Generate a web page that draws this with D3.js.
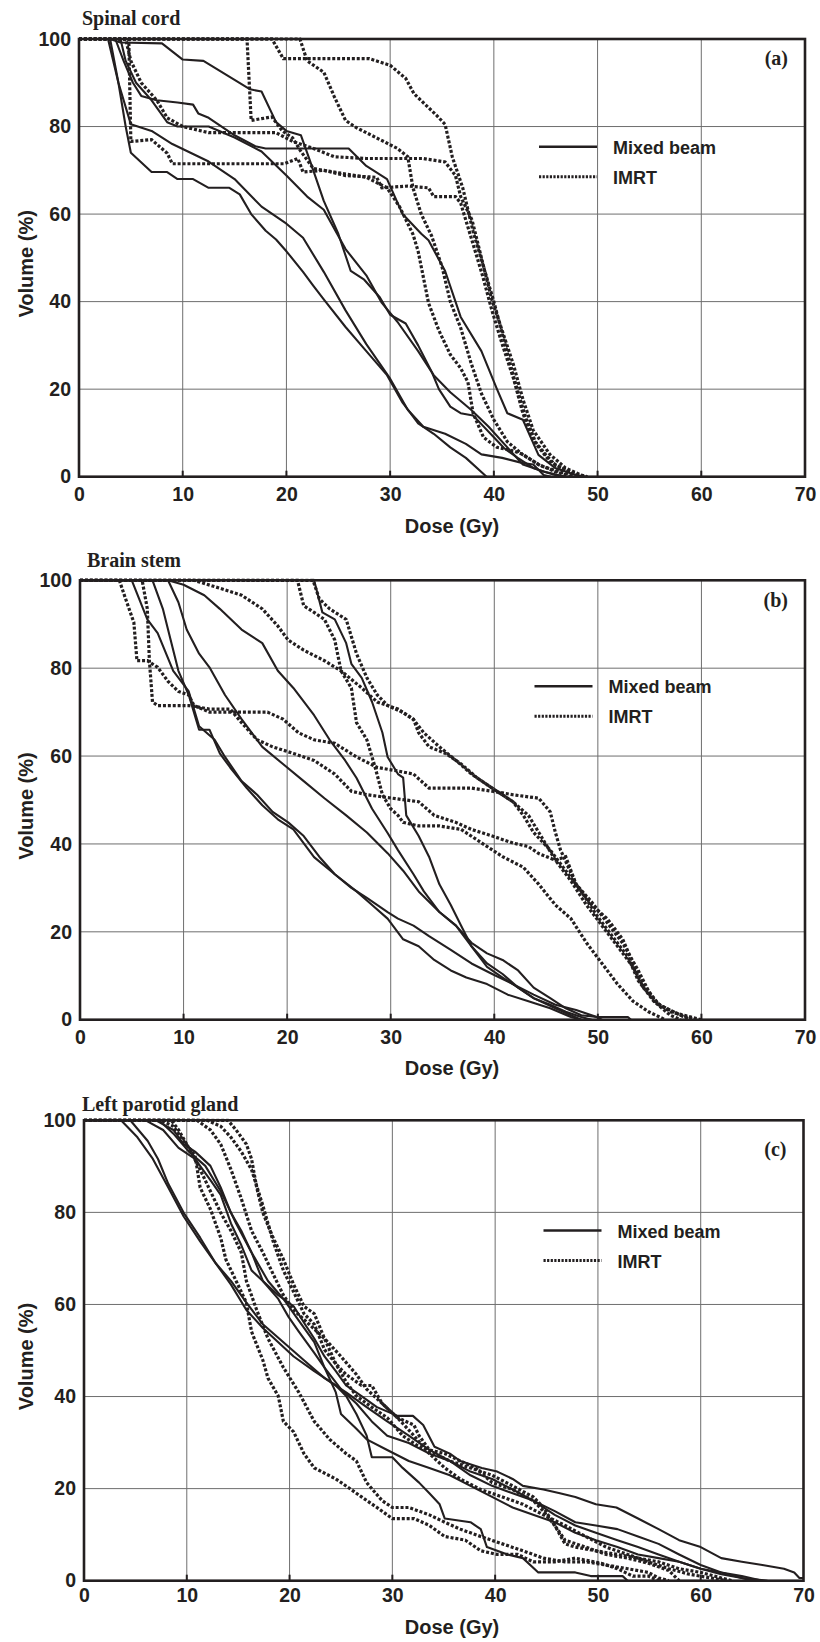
<!DOCTYPE html>
<html>
<head>
<meta charset="utf-8">
<title>Dose volume histograms</title>
<script src="https://d3js.org/d3.v7.min.js"></script>
<style>
  body { margin: 0; background: #fff; }
  svg text { fill: #231f20; }
</style>
</head>
<body>
<svg width="820" height="1642"></svg>
<script>
  // ticks and labels
  const doseTicks = [0, 10, 20, 30, 40, 50, 60, 70];
  const volumeTicks = [0, 20, 40, 60, 80, 100];
  const panelTitles = ["Spinal cord", "Brain stem", "Left parotid gland"];
  const panelLetters = ["(a)", "(b)", "(c)"];
  const legendLabels = ["Mixed beam", "IMRT"];

  // curves: [dose (Gy), volume (%)]
  const spinalMixed = [
    [[0,100],[3,100],[4,99.2],[8,99],[10,95.3],[12,95],[16.5,88.5],[17.6,88],[19,81],[20,79],[21.4,78],[22.3,72],[23.6,63],[25,55.5],[26.2,47],[27.5,45],[29,41],[30,37],[31.5,35],[32.7,30],[34,24],[34.7,20],[35.8,16],[36.8,14.5],[38,14],[39,11.5],[40,9],[41,6.5],[42.3,4.3],[43.8,2],[45,1],[46.5,0]],
    [[0,100],[3.5,100],[4.3,95],[5.2,90],[6,87],[7.5,86],[9.5,85.5],[11,85],[11.5,83],[12.5,82],[15,78],[17,75.5],[18,75],[26,75],[27.7,71],[29.7,68],[31.2,60],[33,55.5],[33.7,54],[35.3,47],[36.8,36.5],[38.8,28.7],[40.3,20],[41.3,14.5],[42.8,13],[44.3,5],[45.9,2],[47.9,0.4],[49,0]],
    [[0,100],[4,100],[4.5,95],[5.5,90],[7,86],[8.5,81],[9.5,80],[12.5,80],[15,77.5],[17.6,74.3],[20,68.8],[22,64],[23.6,61],[25.7,52],[27.7,46],[29.2,39.7],[30.7,35.4],[32.7,28.7],[34.2,23.2],[35.8,19.3],[37.8,15.3],[39.5,11.4],[41.3,6.7],[42.8,2.8],[44.8,1.2],[46.9,0]],
    [[0,100],[2.8,100],[3.8,90],[5,80.5],[7,79],[9,76],[12.5,72],[15,68],[17.6,61.7],[20,57.8],[21.6,54.6],[23.6,46.8],[25.7,38],[27.7,30.3],[30,22.4],[31.7,15.3],[33.2,11.4],[35.3,9.8],[37.3,7.5],[38.8,5.1],[40.8,4.3],[42.8,3.1],[43.8,2.8],[44.8,0.4],[45.5,0]],
    [[0,100],[3,100],[3.8,90],[4.5,80],[5,74],[7,69.6],[8.5,69.6],[9.5,68],[11,68],[12.5,66],[14.5,66],[15.5,64.5],[16.6,60],[18,56.2],[19,54.2],[20,51.5],[21.6,46.8],[22.6,43.6],[23.6,40.5],[25.7,34.2],[27.7,28.7],[29.7,23.2],[31.2,16.9],[32.7,12.2],[34.2,9.8],[35.8,6.7],[37.3,4.3],[39.3,0]]
  ];
  const spinalImrt = [
    [[0,100],[4.5,100],[5,95],[6,90],[7.5,86],[8.5,82],[10,80],[12.5,78.6],[19,78.6],[20.6,76.6],[22.6,75],[24.6,73.1],[27.7,72.7],[33.2,72.7],[35.3,71.9],[36.3,68.8],[36.8,64],[37.9,58.6],[38.9,49.1],[39.8,40.5],[40.8,33.4],[41.9,25.5],[42.8,17.7],[43.8,10.6],[45.4,5.1],[46.9,2],[48.4,0.4],[49,0]],
    [[0,100],[4.8,100],[5,76.6],[7,77],[8.5,73.9],[9,71.5],[19.8,71.5],[21.1,72.7],[21.6,69.6],[23.6,70],[25.7,68.8],[28.7,68.4],[29.2,66],[31.7,66.4],[33.7,66],[34.2,64],[36.3,64],[36.8,62.5],[37.9,53.9],[38.9,46],[39.8,38.1],[40.8,30.3],[41.9,22.4],[42.8,14.5],[43.8,8.3],[45.4,3.5],[47.4,0.8],[48.4,0]],
    [[0,100],[16.2,100],[16.6,81.4],[17.6,81.8],[18.6,82.2],[19.6,79],[20.6,77.4],[21.4,74.3],[22.6,70.4],[24.6,69.6],[27.7,68.4],[29.7,66],[30.9,61.7],[32.2,55.4],[32.7,51.5],[33.7,39.7],[34.7,33.4],[35.8,27.9],[36.8,24.8],[37.5,21.6],[38,14.5],[39,9],[40.3,6.7],[41.9,5.9],[42.8,5.1],[44.3,2.8],[45.9,1.2],[47.4,0]],
    [[0,100],[18.6,100],[19.7,95.5],[28,95.5],[30,94],[31.5,91],[32.3,87.5],[34.5,82.5],[35.3,80.5],[36,73],[37,66],[38,56],[39,48],[40,40],[41,31],[42,22],[43,14],[44,8],[45,5],[46,2.5],[48,0.5],[49,0]],
    [[0,100],[21.3,100],[22,95],[23.6,92.4],[24.6,86.9],[25.7,81.4],[26.7,79.8],[28.7,77.4],[30.7,75],[31.7,73.1],[32.2,66],[33,60],[34,55],[35,48],[35.8,40],[36.8,34],[37.8,26],[38.8,19],[40,13],[41.3,8],[42.8,5],[44.5,2.5],[46.5,1],[48,0]]
  ];

  const brainMixed = [
    [[0,100],[8.5,100],[10,99],[12,96.6],[13.5,93.5],[15.6,88.8],[17.6,85.7],[19.1,79.4],[20.6,75.5],[22.6,69.3],[24.1,63.7],[25.6,59],[26.7,55],[28.2,48],[29.7,42.5],[30.7,38.6],[32.2,33.1],[33.2,29.2],[34.7,24.5],[36.3,21.4],[37.8,17.5],[39.3,15.1],[40.8,13.6],[42.3,11.2],[43.8,7.3],[45.4,4.9],[46.9,2.6],[48.4,1],[49.9,0.6],[52.9,0.6],[53.2,0]],
    [[0,100],[22.6,100],[23.4,92.7],[24.6,91.1],[25.7,85.7],[26.2,81],[27.2,77.8],[28.2,72.3],[29.2,65.3],[29.7,59.8],[30.7,55.9],[31.2,55.1],[31.5,46.5],[32.7,41.8],[33.7,37.1],[34.7,30.8],[35.8,26.1],[36.8,21.4],[37.8,16.7],[39.3,12],[40.8,9.6],[42.3,7.3],[43.8,4.9],[45.4,3.4],[46.9,1.8],[48.4,0.6],[49.4,0]],
    [[0,100],[7,100],[8,93.5],[8.5,88.8],[9.5,79.4],[10.5,73.9],[11.5,66],[12.5,66],[13.5,60.6],[14.5,57.4],[16.1,52.7],[17.6,48.8],[19.1,45.6],[20.6,43.3],[22.6,37],[24.6,33.1],[26.7,29.2],[28.2,26.1],[29.7,23],[31.2,18.3],[32.7,16.7],[34.2,13.6],[35.8,11.2],[37.3,9.6],[39.3,8.1],[41.3,5.7],[43.3,4.2],[45.4,2.6],[47.4,0.6],[48.4,0]],
    [[0,100],[5,100],[6.5,91.1],[7.5,88],[9,79.4],[10.5,74.7],[11.5,66.8],[13,63.7],[14,59.8],[15.6,54.3],[17.1,51.2],[18.6,47.3],[20.1,44.9],[21.6,41.8],[23.1,37.1],[24.6,33.1],[26.2,30],[27.7,27.7],[29.7,24.5],[30.7,23],[32.2,21.4],[33.7,19],[35.8,15.9],[37.8,12.8],[39.8,10.4],[41.8,8.1],[43.8,5.7],[45.9,3.4],[47.9,2.2],[49.9,0.6],[50.4,0]],
    [[0,100],[8.5,100],[9.5,95],[10.3,88.8],[11.5,83.3],[12.5,80.2],[14,73.9],[15.6,68.4],[17.6,62.1],[19.6,58.2],[21.6,54.3],[23.6,50.4],[25.7,46.5],[27.7,42.6],[29.7,37.9],[31.2,33.9],[32.7,29.2],[34.7,24.5],[36.3,21.4],[37.8,16.7],[39.3,12.8],[40.8,10.4],[42.3,7.3],[43.8,4.9],[45.9,2.6],[47.4,1],[48.4,0]]
  ];
  const brainImrt = [
    [[0,100],[3.8,100],[4.4,95.8],[5.2,90.4],[5.5,81.7],[6.5,81.7],[7.5,80.2],[8.5,77],[9.5,74.7],[10.5,73.9],[11,71.5],[12.5,70],[18.1,70],[19.6,68.4],[21.1,65.3],[22.6,63.7],[24.6,62.9],[26.7,59.8],[28.7,57.4],[30.7,56.6],[32.2,55.9],[33.7,52.7],[37.8,52.7],[39.8,52],[41.8,51.2],[44.3,50.4],[45.4,47.3],[45.9,42.6],[46.4,38.6],[47.9,30.8],[49.4,26.1],[50.9,23],[52.4,18.3],[53.4,12.8],[54.4,8.1],[55.5,4.2],[57,1.8],[59,0.6],[60,0]],
    [[0,100],[6,100],[6.5,93.5],[6.7,81.7],[7,72.3],[7.5,71.5],[10.5,71.5],[12.5,70.7],[14.5,70.7],[15.6,67.6],[17.1,63.7],[18.6,62.1],[20.6,60.6],[22.6,59],[24.6,55.9],[26.2,52],[27.7,51.2],[30.2,50.4],[32.7,49.6],[34.2,46.5],[36.3,44.9],[37.8,43.3],[39.8,41.8],[41.8,40.2],[43.3,39.4],[44.3,37.8],[45.9,36.3],[46.9,37.1],[47.9,30.8],[49.4,26.8],[50.9,22.1],[52.4,17.4],[53.9,11.2],[54.9,6.5],[55.9,3.4],[58,1],[59.5,0]],
    [[0,100],[11,100],[13.5,98.2],[15.6,96.6],[17.6,93.5],[19.1,89.6],[20.1,86.4],[21.6,84.1],[23.6,81.7],[25.2,79.4],[27.2,75.5],[28.7,72.3],[30.7,70.7],[32.2,68.3],[33.2,65.3],[34.7,62.1],[36.3,59],[37.8,55.9],[39.8,52.7],[41.8,49.6],[43.3,46.5],[44.3,42.6],[45.9,36.3],[47.4,31.6],[48.9,26.1],[50.4,21.4],[51.9,16.7],[53.4,12],[54.4,7.3],[55.9,3.4],[58,1],[59,0]],
    [[0,100],[21,100],[21.6,94.2],[22.6,92.7],[23.6,91.1],[24.6,86.4],[25.2,79.4],[26.2,75.5],[26.7,67.6],[27.7,63.7],[28.5,57.4],[29.2,51.2],[30,48],[30.7,46.5],[31.2,44.9],[32.7,44.1],[34.7,44.1],[36.8,43.3],[38.8,40.2],[40.8,37.1],[42.8,34.7],[44.3,30.8],[45.9,26.1],[47.4,23],[48.9,17.5],[50.4,12.8],[51.9,8.1],[53.4,4.2],[54.9,1.8],[56.5,0]],
    [[0,100],[22.5,100],[23.1,95.8],[24.1,93.5],[25.7,91.1],[26.2,87.2],[26.7,83.3],[27.7,77.8],[28.7,73.9],[29.7,71.5],[31.2,69.9],[32.2,68.4],[32.7,65.3],[33.7,62.1],[35.3,60.6],[36.8,58.2],[38.3,55.1],[39.8,52.7],[41.8,49.6],[42.8,46.5],[43.8,42.6],[45.4,38.6],[46.9,33.9],[48.4,29.2],[49.9,23.7],[51.4,19],[52.9,14.3],[53.9,8.9],[55.4,4.2],[57,1],[58,0]]
  ];

  const parotidMixed = [
    [[0,100],[3.6,100],[5.2,96.3],[6.7,91.6],[8.2,85.4],[9.7,79.1],[11.3,73.7],[12.8,69],[14.3,64.3],[15.8,58.8],[17.4,54.9],[18.9,51.8],[20.4,48.7],[22.4,45.5],[24.5,42.4],[25.5,40.1],[26.5,36.2],[27.5,31.5],[28,26.8],[30,26.8],[31,24.5],[32.6,21.3],[33.6,19],[34.6,16.6],[35.1,13.5],[37.6,12.7],[38.6,11.2],[39.2,7.3],[41.2,5.7],[42.7,4.9],[44.2,1.8],[47.8,1.8],[49.3,1],[52.4,1],[52.9,0]],
    [[0,100],[4.5,100],[6.2,95.5],[7.2,91.6],[8.2,86.2],[9.7,79.9],[11.3,74.5],[12.8,69],[14.3,65.1],[15.8,60.4],[17.4,55.7],[19.4,51.8],[21.4,47.9],[23.4,44],[25.5,40.9],[27.5,37.7],[29.5,34.6],[31.6,31.5],[33.6,28.4],[35.6,26],[37.6,23.7],[39.7,22.1],[41.7,19.8],[43.7,17.4],[45.8,14.3],[47.8,12],[49.8,10.4],[51.9,8.8],[53.9,7.3],[55.9,5.7],[57.9,4.1],[60,2.6],[62,1.4],[64,0.6],[65,0]],
    [[0,100],[7,100],[8.7,97.9],[9.7,94.8],[10.8,93.2],[12.3,90.1],[13.3,85.4],[14.3,79.9],[15.3,76],[16.3,71.3],[17.4,65.1],[18.9,62],[20.4,59.6],[21.5,55.7],[22.4,52.6],[23.4,48.7],[24.5,45.5],[25.5,42.4],[27,40.1],[28.5,37.7],[30.5,35.8],[32,35.8],[33,33.8],[34.1,29.1],[35.6,27.6],[36.6,26],[38.7,24.5],[40.2,23.7],[41.7,22.1],[42.7,20.6],[44.7,19.8],[46.3,19],[47.8,18.2],[49.8,16.6],[51.8,15.9],[53.9,13.5],[55.9,11.2],[57.9,8.8],[60,7.3],[62,4.9],[64,4.1],[66,3.4],[68.1,2.6],[69.1,1.8],[69.6,0.6],[70,0.6]],
    [[0,100],[6,100],[7.7,97.9],[9.2,94],[10.8,91.6],[12.3,87],[13.3,83.8],[14.3,77.6],[15.3,72.9],[16.3,67.4],[17.4,65.1],[18.9,61.2],[19.9,57.3],[20.9,54.1],[22.4,49.5],[23.4,46.3],[25,41.6],[26.5,38.5],[28,34.6],[29.5,31.5],[31.6,29.9],[33.6,27.6],[35.6,26],[37.6,22.9],[39.7,20.6],[41.7,19],[43.7,17.4],[45.8,15.1],[47.8,12.7],[49.8,12],[51.9,11.2],[53.9,9.6],[55.9,8],[57.9,5.7],[60,3.4],[62,1.8],[64,1],[66,0]],
    [[0,100],[7.3,100],[8.7,97.1],[10.2,93.2],[11.8,90.1],[13.3,84.6],[14.8,77.6],[16.3,71.3],[17.9,65.1],[19.4,61.2],[20.9,56.5],[22.4,51.8],[23.4,46.3],[24.5,40.9],[25,36.2],[26.5,33],[27.5,30.7],[29.5,28.4],[31.6,26],[33.6,24.5],[35.6,22.9],[37.6,20.6],[39.7,18.2],[41.7,15.9],[43.7,14.3],[45.8,12.7],[47.8,10.4],[49.8,8.8],[51.9,7.3],[53.9,5.7],[55.9,4.9],[57.9,4.1],[60,2.6],[62,1.8],[64,0.6],[66.5,0]]
  ];
  const parotidImrt = [
    [[0,100],[7.5,100],[8.7,98.7],[9.7,95.5],[10.8,92.4],[11.3,85.4],[12.3,80.7],[13.3,74.5],[13.8,69.8],[14.8,65.1],[15.8,60.4],[16.3,54.1],[17.4,47.9],[17.9,44],[18.9,40.1],[19.4,34.6],[20.4,32.3],[21.4,27.6],[22.4,24.5],[24.5,22.1],[26,19.8],[27,18.2],[28.5,15.9],[30,13.5],[32.1,13.5],[33.6,12],[35.1,9.6],[37.1,8.8],[38.6,6.5],[40.2,5.7],[42.2,5.7],[43.7,4.1],[45.8,4.1],[47.8,4.9],[50.3,3.8],[51.9,2.6],[53.4,1],[54.9,1],[55.9,0]],
    [[0,100],[8.5,100],[9.2,97.9],[10.2,94],[11.3,89.3],[12.3,84.6],[13.3,79.9],[14.3,76],[15.3,71.3],[15.8,65.1],[16.8,58.8],[17.9,52.6],[19.4,46.3],[20.9,40.9],[22.4,34.6],[23.9,30.7],[25.5,27.6],[26.5,26],[27.5,21.3],[29,17.4],[30,15.9],[31.6,15.9],[33.6,14.3],[35.1,12.7],[36.6,11.2],[38.6,9.6],[40.7,8],[42.7,6.5],[44.7,4.9],[46.8,4.1],[48.8,4.1],[50.8,3.4],[52.9,2.6],[54.9,1.8],[55.9,0.6],[56.9,0]],
    [[0,100],[11,100],[12.3,97.9],[13.3,94.8],[14.3,89.3],[15.3,83],[16.3,76],[17.4,71.3],[18.4,66.6],[19.4,62],[20.4,58.8],[21.9,55.7],[23.4,52.6],[25,48.7],[26.5,44.8],[27.5,41.6],[29,38.5],[30.5,35.4],[32.1,31.5],[33.6,27.6],[35.1,24.5],[36.6,22.1],[38.6,19.8],[40.7,18.2],[42.7,16.6],[44.7,14.3],[46.8,12],[48.8,9.6],[50.8,7.3],[52.9,5.7],[54.9,4.1],[56.9,2.6],[58.9,1.4],[61,0.6],[62.5,0]],
    [[0,100],[12,100],[13.3,98.7],[14.3,96.3],[15.3,93.2],[16.3,89.3],[17.4,81.5],[18.4,73.7],[19.4,67.4],[20.4,62.7],[21.4,58],[22.4,55.7],[23.4,50.2],[24.5,47.1],[25.5,44.8],[27,42.4],[28,42.4],[29,38.5],[30.5,35.4],[32.1,33.8],[32.6,31.5],[33.6,28.4],[35.1,27.6],[36.6,26],[38.1,24.5],[39.7,21.3],[41.7,19.8],[43.7,17.4],[44.7,15.1],[45.8,12],[46.8,8],[47.8,7.3],[49.8,6.5],[51.9,5.7],[53.9,4.9],[55.9,4.1],[57.9,2.6],[60,1.8],[62,0.6],[63,0]],
    [[0,100],[14,100],[14.8,97.9],[15.8,94.8],[16.3,91.6],[16.8,85.4],[17.4,79.9],[18.4,74.5],[19.4,69.8],[20.4,64.3],[21.4,59.6],[22.4,58],[23.4,52.6],[24.5,47.1],[25.5,43.2],[26.5,40.1],[28,37.7],[29.5,35.4],[31,31.5],[32.6,29.1],[34.1,27.6],[35.6,26],[37.6,24.5],[39.7,22.9],[41.7,20.6],[43.7,18.2],[44.7,15.9],[45.8,12],[46.8,8.8],[48.8,7.3],[50.8,5.7],[52.9,4.9],[54.9,3.8],[56.9,2.2],[57.9,0]]
  ];

  const panelData = [
    { mixed: spinalMixed, imrt: spinalImrt },
    { mixed: brainMixed, imrt: brainImrt },
    { mixed: parotidMixed, imrt: parotidImrt }
  ];

  // frame of each panel, in page pixels
  const frames = [
    { left: 79, right: 805, top: 39, bottom: 476.7, tickGap: 27.3, doseGap: 56, titleX: 82, titleY: 25, letterY: 65, legX: 539, legY: 146.7 },
    { left: 80, right: 805, top: 580.3, bottom: 1019.7, tickGap: 27, doseGap: 55, titleX: 87, titleY: 566.7, letterY: 607, legX: 534.5, legY: 686.3 },
    { left: 84, right: 803.5, top: 1120.3, bottom: 1580.7, tickGap: 24.3, doseGap: 53.3, titleX: 82, titleY: 1110.7, letterY: 1156, legX: 543.5, legY: 1230.5 }
  ];

  const ink = "#231f20";
  const sans = "'Liberation Sans', Arial, sans-serif";
  const serif = "'Liberation Serif', 'Times New Roman', serif";
  const dotted = "3 1.9";

  const svg = d3.select("svg");

  frames.forEach((f, i) => {
    const x = d3.scaleLinear().domain([0, 70]).range([f.left, f.right]);
    const y = d3.scaleLinear().domain([0, 100]).range([f.bottom, f.top]);
    const g = svg.append("g");

    // grid
    g.selectAll(".vgrid").data(doseTicks.slice(1, -1)).join("line")
      .attr("x1", d => x(d)).attr("x2", d => x(d))
      .attr("y1", f.top).attr("y2", f.bottom)
      .attr("stroke", "#6e6e6e").attr("stroke-width", 1);
    g.selectAll(".hgrid").data(volumeTicks.slice(1, -1)).join("line")
      .attr("x1", f.left).attr("x2", f.right)
      .attr("y1", d => y(d)).attr("y2", d => y(d))
      .attr("stroke", "#6e6e6e").attr("stroke-width", 1);
    // short ticks on the dose axis
    g.selectAll(".xtick").data(doseTicks.slice(1, -1)).join("line")
      .attr("x1", d => x(d)).attr("x2", d => x(d))
      .attr("y1", f.bottom).attr("y2", f.bottom - 6)
      .attr("stroke", ink).attr("stroke-width", 2);

    // curves
    const line = d3.line().x(d => x(d[0])).y(d => y(d[1]));
    const clipId = "clip" + i;
    svg.append("clipPath").attr("id", clipId).append("rect")
      .attr("x", f.left).attr("y", f.top - 2)
      .attr("width", f.right - f.left).attr("height", f.bottom - f.top + 2);
    const curves = g.append("g").attr("clip-path", `url(#${clipId})`);
    curves.selectAll(".mixed").data(panelData[i].mixed).join("path")
      .attr("d", line).attr("fill", "none")
      .attr("stroke", ink).attr("stroke-width", 2.1)
      .attr("stroke-linejoin", "round");
    curves.selectAll(".imrt").data(panelData[i].imrt).join("path")
      .attr("d", line).attr("fill", "none")
      .attr("stroke", ink).attr("stroke-width", 3.2)
      .attr("stroke-dasharray", dotted);

    // frame
    g.append("rect")
      .attr("x", f.left).attr("y", f.top)
      .attr("width", f.right - f.left).attr("height", f.bottom - f.top)
      .attr("fill", "none").attr("stroke", ink).attr("stroke-width", 2.6);

    // axes
    const xAxis = g.append("g").attr("transform", `translate(0,${f.bottom})`)
      .call(d3.axisBottom(x).tickValues(doseTicks).tickSize(0).tickPadding(f.tickGap - 17));
    const yAxis = g.append("g").attr("transform", `translate(${f.left},0)`)
      .call(d3.axisLeft(y).tickValues(volumeTicks).tickSize(0).tickPadding(8));
    [xAxis, yAxis].forEach(a => {
      a.select(".domain").remove();
      a.selectAll("text").attr("font-family", sans).attr("font-weight", "bold")
        .attr("font-size", 19.5).attr("fill", ink);
    });

    g.append("text")
      .attr("x", 452).attr("y", f.bottom + f.doseGap)
      .attr("text-anchor", "middle")
      .attr("font-family", sans).attr("font-weight", "bold").attr("font-size", 20)
      .text("Dose (Gy)");
    g.append("text")
      .attr("transform", `translate(33,${(f.top + f.bottom) / 2 + 6}) rotate(-90)`)
      .attr("text-anchor", "middle")
      .attr("font-family", sans).attr("font-weight", "bold").attr("font-size", 20)
      .text("Volume (%)");

    // title and panel letter
    g.append("text")
      .attr("x", f.titleX).attr("y", f.titleY)
      .attr("font-family", serif).attr("font-weight", "bold").attr("font-size", 20)
      .text(panelTitles[i]);
    g.append("text")
      .attr("x", f.right - 17).attr("y", f.letterY)
      .attr("text-anchor", "end")
      .attr("font-family", serif).attr("font-weight", "bold").attr("font-size", 20)
      .text(panelLetters[i]);

    // legend
    const leg = g.append("g");
    legendLabels.forEach((lab, k) => {
      const ly = f.legY + k * 30;
      leg.append("line")
        .attr("x1", f.legX).attr("x2", f.legX + 58)
        .attr("y1", ly).attr("y2", ly)
        .attr("stroke", ink)
        .attr("stroke-width", k === 0 ? 2.4 : 3)
        .attr("stroke-dasharray", k === 0 ? null : "2.2 1.4");
      leg.append("text")
        .attr("x", f.legX + 74).attr("y", ly + 7)
        .attr("font-family", sans).attr("font-weight", "bold").attr("font-size", 18)
        .text(lab);
    });
  });
</script>
</body>
</html>
